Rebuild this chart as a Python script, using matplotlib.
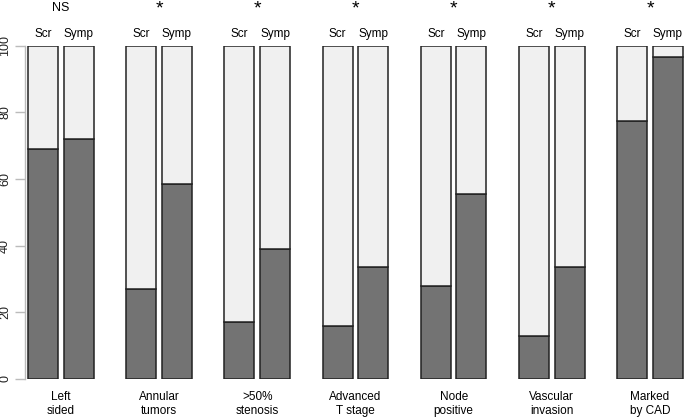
import numpy as np
import matplotlib.pyplot as plt

plt.rcParams['font.family'] = ['Liberation Sans', 'DejaVu Sans']

groups = ['Left\nsided', 'Annular\ntumors', '>50%\nstenosis', 'Advanced\nT stage',
          'Node\npositive', 'Vascular\ninvasion', 'Marked\nby CAD']
signif = ['NS', '*', '*', '*', '*', '*', '*']
scr = [69, 27, 17, 16, 28, 13, 77.5]
symp = [72, 58.5, 39, 33.5, 55.5, 33.5, 96.5]
bar_names = ['Scr', 'Symp']

dark = '#737373'
light = '#f0f0f0'

fig = plt.figure(figsize=(6.85, 4.18), dpi=100)
ax = fig.add_axes([25 / 685, 39 / 418, 660 / 685, 333.4 / 418])

step = 98.2 / 30
offset = 35.7 / 30
x_scr = np.arange(len(groups)) * step
x_symp = x_scr + offset

for xs, vals in [(x_scr, scr), (x_symp, symp)]:
    vals = np.array(vals)
    ax.bar(xs, vals, width=1, color=dark, edgecolor='#222222', linewidth=1.1)
    ax.bar(xs, 100 - vals, bottom=vals, width=1, color=light,
           edgecolor='#222222', linewidth=1.1)

ax.set_xlim(-0.6, x_symp[-1] + 0.57)
ax.set_ylim(0, 100)

for s in ['top', 'right', 'bottom']:
    ax.spines[s].set_visible(False)
ax.spines['left'].set_color('#bbbbbb')
ax.spines['left'].set_linewidth(1)
ax.set_xticks([])
ax.set_yticks(np.arange(0, 101, 20))
ax.tick_params(axis='y', length=7, width=1, color='#bbbbbb', labelsize=9,
               labelcolor='#222222', pad=3)
for lab in ax.get_yticklabels():
    lab.set_rotation(90)
    lab.set_va('center')

for i in range(len(groups)):
    ax.text(x_scr[i], 101.8, bar_names[0], ha='center', va='bottom', fontsize=8.5,
            clip_on=False)
    ax.text(x_symp[i], 101.8, bar_names[1], ha='center', va='bottom', fontsize=8.5,
            clip_on=False)
    mid = (x_scr[i] + x_symp[i]) / 2
    if signif[i] == '*':
        ax.text(mid, 108.5, '*', ha='center', va='bottom', fontsize=14,
                clip_on=False)
    else:
        ax.text(mid, 109.5, signif[i], ha='center', va='bottom', fontsize=9,
                clip_on=False)
    ax.text(mid, -3.6, groups[i], ha='center', va='top', fontsize=8.5,
            linespacing=1.2, clip_on=False)

fig.savefig('out.png', dpi=100)
